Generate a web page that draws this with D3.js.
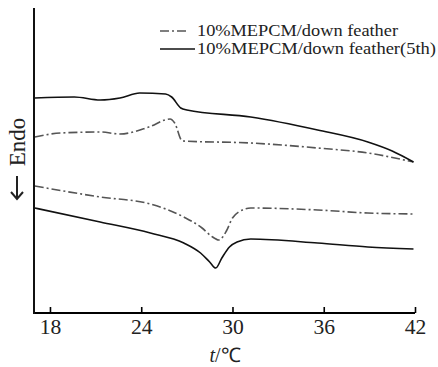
<!DOCTYPE html>
<html>
<head>
  <meta charset="utf-8">
  <title>DSC curves</title>
  <script src="https://d3js.org/d3.v7.min.js"></script>
  <style type="text/css">
    body { margin: 0; background: #fff; }
    svg text { font-family: "Liberation Serif", "Times New Roman", serif; }
  </style>
</head>
<body>
<div id="chart"></div>
<script type="text/javascript">
  // temperature (°C) and heat flow (arbitrary units)
  var tickValues = [18, 24, 30, 36, 42];
  var seriesNames = ["10%MEPCM/down feather", "10%MEPCM/down feather(5th)"];

  // first run, heating (upper dash-dot)
  var firstHeatT = [17.0, 18.7, 21.3, 22.6, 24.5, 25.9, 26.2, 26.7, 31.2, 35.6, 38.9, 41.9];
  var firstHeatV = [176, 180, 181, 179, 186, 194, 190, 172, 170, 165, 160, 151];
  // first run, cooling (lower dash-dot)
  var firstCoolT = [17.0, 21.3, 24.6, 26.8, 28.0, 28.6, 29.1, 29.6, 30.0, 30.4, 31.2, 35.6, 38.9, 41.9];
  var firstCoolV = [127, 116, 109, 96, 85, 77, 73, 82, 95, 101, 105, 103, 100, 99];
  // 5th run, heating (upper solid)
  var fifthHeatT = [17.0, 19.6, 21.3, 22.6, 23.9, 25.6, 26.0, 26.6, 27.0, 31.2, 35.6, 38.9, 40.5, 41.9];
  var fifthHeatV = [215, 216, 213, 215, 220, 219, 216, 205, 203, 196, 183, 171, 162, 151];
  // 5th run, cooling (lower solid)
  var fifthCoolT = [17.0, 21.3, 24.6, 26.8, 27.9, 28.5, 28.9, 29.3, 29.8, 30.3, 31.2, 35.6, 38.9, 41.9];
  var fifthCoolV = [105, 91, 80, 70, 60, 51, 45, 55, 66, 71, 74, 70, 66, 64];

  var width = 438, height = 367;
  var svg = d3.select("#chart").append("svg")
    .attr("width", width)
    .attr("height", height);

  var x = d3.scaleLinear().domain([16.95, 42]).range([34, 415]);
  var y = d3.scaleLinear().domain([0, 305]).range([313, 8]);

  function zip(ts, vs) {
    return ts.map(function (t, i) { return [t, vs[i]]; });
  }

  var line = d3.line()
    .x(function (d) { return x(d[0]); })
    .y(function (d) { return y(d[1]); })
    .curve(d3.curveMonotoneX);

  var dashStyle = { stroke: "#555", dash: "9,3,2,3" };
  var solidStyle = { stroke: "#111", dash: null };

  var curves = [
    { data: zip(firstHeatT, firstHeatV), s: dashStyle },
    { data: zip(firstCoolT, firstCoolV), s: dashStyle },
    { data: zip(fifthHeatT, fifthHeatV), s: solidStyle },
    { data: zip(fifthCoolT, fifthCoolV), s: solidStyle }
  ];

  svg.selectAll(".curve")
    .data(curves)
    .enter().append("path")
    .attr("class", "curve")
    .attr("fill", "none")
    .attr("stroke", function (d) { return d.s.stroke; })
    .attr("stroke-width", 1.6)
    .attr("stroke-dasharray", function (d) { return d.s.dash; })
    .attr("d", function (d) { return line(d.data); });

  // x axis, ticks pointing up
  var xAxis = svg.append("g")
    .attr("transform", "translate(0," + y(0) + ")")
    .call(d3.axisTop(x).tickValues(tickValues).tickSize(6).tickFormat(d3.format("d")));
  xAxis.select(".domain").attr("d", "M" + x.range()[0] + ",0H" + x.range()[1]).attr("stroke-width", 2);
  xAxis.selectAll(".tick line").attr("stroke-width", 1.6);
  xAxis.selectAll(".tick text")
    .attr("y", 0)
    .attr("dy", 0)
    .attr("font-size", 20)
    .attr("fill", "#222")
    .attr("transform", "translate(0,21) scale(1.08,1)");

  // y axis, just a line
  svg.append("line")
    .attr("x1", x.range()[0]).attr("x2", x.range()[0])
    .attr("y1", y.range()[1]).attr("y2", y(0) + 1)
    .attr("stroke", "#111")
    .attr("stroke-width", 2);

  svg.append("text")
    .attr("x", 225)
    .attr("y", 362)
    .attr("text-anchor", "middle")
    .attr("font-size", 20)
    .attr("fill", "#222")
    .html('<tspan font-style="italic">t</tspan>/℃');

  // "Endo" with a downward arrow under it
  svg.append("text")
    .attr("transform", "translate(25,142) rotate(-90)")
    .attr("text-anchor", "middle")
    .attr("font-size", 23)
    .attr("fill", "#222")
    .text("Endo");
  svg.append("path")
    .attr("d", "M17,176V199M11,192L17,199L23,192")
    .attr("fill", "none")
    .attr("stroke", "#222")
    .attr("stroke-width", 2);

  // legend
  var legend = svg.append("g");
  var legendStyles = [dashStyle, solidStyle];
  var legendWidths = [201, 239];
  seriesNames.forEach(function (name, i) {
    var ly = 31 + i * 18;
    legend.append("line")
      .attr("x1", 160).attr("x2", i == 0 ? 189 : 195)
      .attr("y1", ly).attr("y2", ly)
      .attr("stroke", legendStyles[i].stroke)
      .attr("stroke-width", 1.6)
      .attr("stroke-dasharray", legendStyles[i].dash);
    legend.append("text")
      .attr("x", 197)
      .attr("y", ly + 5)
      .attr("font-size", 16)
      .attr("fill", "#222")
      .attr("textLength", legendWidths[i])
      .attr("lengthAdjust", "spacingAndGlyphs")
      .text(name);
  });
</script>
</body>
</html>
